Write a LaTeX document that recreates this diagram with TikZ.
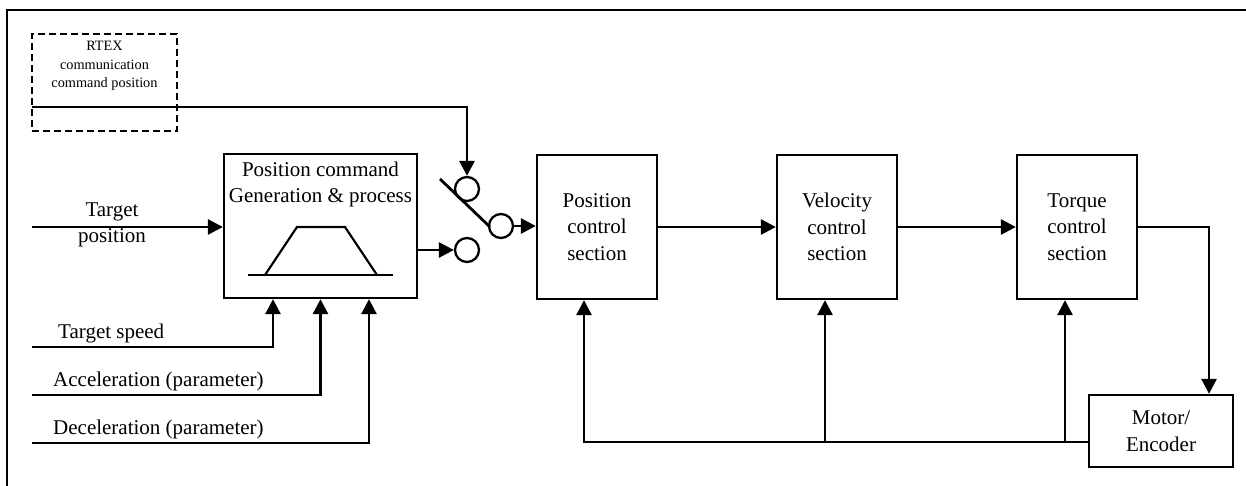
\documentclass[tikz,border=0pt]{standalone}
\usepackage{fontspec}
\setmainfont{Liberation Serif}
\usetikzlibrary{arrows.meta,calc}
\begin{document}
\begin{tikzpicture}[x=1pt,y=-1pt,
  wire/.style={line width=2.8pt},
  arr/.style={wire,-{Triangle[length=15pt,width=15pt]}},
  blk/.style={draw,line width=2.3pt,rectangle,inner sep=0pt,align=center,
    font=\fontsize{21}{26.5}\selectfont},
  lbl/.style={inner sep=0pt,align=center,font=\fontsize{21}{26.5}\selectfont},
  sw/.style={draw,circle,line width=2.3pt,minimum size=24pt,inner sep=0pt},
]
\useasboundingbox (0,0) rectangle (1246,486);

% outer frame
\draw[line width=2.4pt] (1246,10) -- (7,10) -- (7,486);

% communication command source
\node[draw,dashed,dash pattern=on 7pt off 4pt,line width=2.2pt,rectangle,inner sep=0pt,
  minimum width=145pt,minimum height=97pt] (rtex) at (104.5,82.5) {};
\node[inner sep=0pt,align=center,font=\fontsize{14.3}{18.5}\selectfont] (rtexlbl) at (104.5,66)
  {RTEX\\communication\\command position};

% position command generator
\node[blk,minimum width=193pt,minimum height=144pt] (gen) at (320.5,226) {};
\node[lbl] (genlbl) at (320.5,184.5) {Position command\\Generation \& process};
\draw[line width=2.2pt] (248,275) -- (393,275);
\draw[line width=2.2pt] (265,275) -- (297,227) -- (345,227) -- (377,275);

% control loop blocks
\node[blk,minimum width=120pt,minimum height=144pt] (pos) at (597,227) {Position\\control\\section};
\node[blk,minimum width=120pt,minimum height=144pt] (vel) at (837,227) {Velocity\\control\\section};
\node[blk,minimum width=120pt,minimum height=144pt] (tor) at (1077,227) {Torque\\control\\section};
\node[blk,minimum width=144pt,minimum height=72pt] (motor) at (1161,431) {Motor/\\Encoder};

% selector switch
\node[sw] (c1) at (467,189) {};
\node[sw] (c2) at (501,226) {};
\node[sw] (c3) at (467,250) {};
\coordinate (bladeA) at (440,179);
\coordinate (bladeB) at (490,227);
\draw[wire] (bladeA) -- (bladeB);

% communication command into the switch
\coordinate (rtexout) at (32,107);
\draw[arr] (rtexout) -| (c1.north);

% target position input
\coordinate (tpin) at (32,227);
\draw[arr] (tpin) -- (gen.west |- tpin);
\node[lbl] (tplbl) at (112,225) {Target\\position};

% generator output into the switch
\draw[arr] (gen.east |- c3) -- (c3.west);
\draw[arr] (c2.east) -- (pos.west |- c2);

% chain of control sections
\draw[arr] (pos.east) -- (vel.west);
\draw[arr] (vel.east) -- (tor.west);
\draw[arr] (tor.east) -| ($(motor.north)+(48,0)$);

% profile inputs
\coordinate (tsin) at (32,347);
\coordinate (acin) at (32,395);
\coordinate (dcin) at (32,443);
\draw[arr] (tsin) -| ($(gen.south)+(-47.5,0)$);
\draw[arr] (acin) -| (gen.south);
\draw[arr] (dcin) -| ($(gen.south)+(48.5,0)$);
\node[lbl,anchor=base west] (tslbl) at (58,338.5) {Target speed};
\node[lbl,anchor=base west] (aclbl) at (53,386.5) {Acceleration (parameter)};
\node[lbl,anchor=base west] (dclbl) at (53,434) {Deceleration (parameter)};

% encoder feedback
\coordinate (fb) at (motor.west |- 0,442);
\coordinate (j1) at (825,442);
\coordinate (j2) at (1065,442);
\draw[arr] (fb) -| ($(pos.south)+(-13,0)$);
\draw[arr] (j1) -- (j1 |- vel.south);
\draw[arr] (j2) -- (j2 |- tor.south);
\end{tikzpicture}
\end{document}
